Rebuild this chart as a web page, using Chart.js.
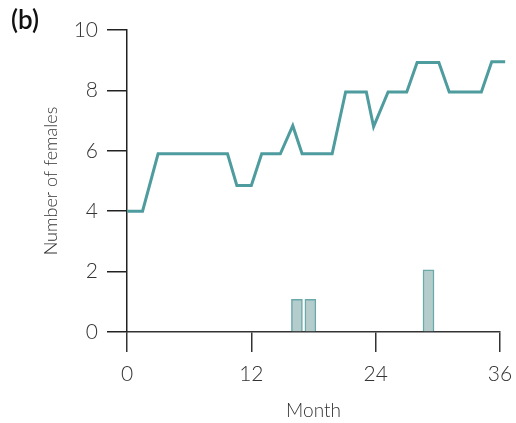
<!DOCTYPE html>
<html>
<head>
<meta charset="utf-8">
<script src="https://cdn.jsdelivr.net/npm/chart.js@4/dist/chart.umd.min.js"></script>
<style>
  html, body { margin: 0; padding: 0; background: #fff; }
  #wrap { width: 516px; height: 423px; }
</style>
</head>
<body>
<div id="wrap"><canvas id="chart"></canvas></div>
<script>
// values
const lineMonths  = [0, 1.5, 3, 9.7, 10.6, 12, 13, 14.8, 16, 16.9, 19.8, 21.1, 23.1, 23.8, 25.2, 27, 28, 30.1, 31.1, 34.2, 35.2, 36.5];
const lineFemales = [4, 4, 5.9, 5.9, 4.85, 4.85, 5.9, 5.9, 6.83, 5.9, 5.9, 7.95, 7.95, 6.8, 7.95, 7.95, 8.92, 8.92, 7.95, 7.95, 8.95, 8.95];
const barMonths = [16.4, 17.7, 29.1];
const barCounts = [1.08, 1.08, 2.06];
const xTicks = [0, 12, 24, 36];
const yTicks = [0, 2, 4, 6, 8, 10];

const tealLine = '#4f9c9e';
const labelFont = { family: 'Lato', size: 21, weight: '300' };

const panelLabel = {
  id: 'panelLabel',
  afterDraw(chart) {
    const ctx = chart.ctx;
    ctx.save();
    ctx.font = '600 26px Lato';
    ctx.fillStyle = '#111';
    ctx.textBaseline = 'top';
    ctx.fillText('(b)', 11, 8);
    ctx.restore();
  }
};

document.addEventListener('DOMContentLoaded', function () {
  let ctx = document.getElementById('chart');
  new Chart(ctx, {
    type: 'line',
    data: {
      datasets: [
        {
          type: 'line',
          data: lineMonths.map((m, i) => ({ x: m, y: lineFemales[i] })),
          borderColor: tealLine,
          borderWidth: 3,
          pointRadius: 0,
          tension: 0,
          clip: false
        },
        {
          type: 'bar',
          data: barMonths.map((m, i) => ({ x: m, y: barCounts[i] })),
          backgroundColor: '#b4cccc',
          borderColor: '#6aa9aa',
          borderWidth: 1.5,
          barThickness: 11
        }
      ]
    },
    options: {
      responsive: true,
      maintainAspectRatio: false,
      animation: false,
      layout: { padding: { left: 0, right: 16, top: 30, bottom: 0 } },
      plugins: { legend: { display: false }, tooltip: { enabled: false } },
      scales: {
        x: {
          type: 'linear',
          min: 0,
          max: 36,
          offset: false,
          afterBuildTicks: (s) => { s.ticks = xTicks.map(v => ({ value: v })); },
          afterFit: (s) => { s.height = 91; s.paddingLeft = 0; s.paddingRight = 0; },
          border: { color: '#333', width: 1.5 },
          grid: { offset: false, drawOnChartArea: false, tickLength: 20, color: '#333', lineWidth: 1.5 },
          ticks: { color: '#333', font: labelFont, padding: 10, maxRotation: 0 },
          title: { display: true, text: 'Month', color: '#333', font: { family: 'Lato', size: 19, weight: '300' }, padding: { top: 0, bottom: 1 } }
        },
        y: {
          min: 0,
          max: 10,
          afterBuildTicks: (s) => { s.ticks = yTicks.map(v => ({ value: v })); },
          afterFit: (s) => { s.width = 127; s.paddingTop = 0; s.paddingBottom = 0; },
          border: { color: '#222', width: 1.5 },
          grid: { drawOnChartArea: false, tickLength: 20, color: '#222', lineWidth: 1.5 },
          ticks: { color: '#333', font: labelFont, padding: 9 },
          title: { display: true, text: 'Number of females', color: '#333', font: { family: 'Lato', size: 18, weight: '300' }, padding: { top: 40, bottom: 0 } }
        }
      }
    },
    plugins: [panelLabel]
  });
});
</script>
</body>
</html>
